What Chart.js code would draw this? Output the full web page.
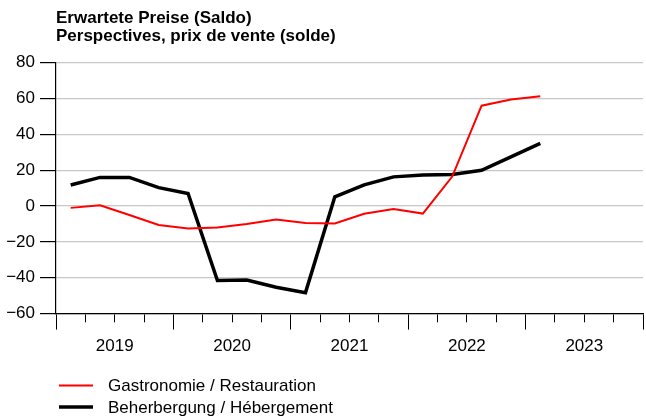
<!DOCTYPE html>
<html>
<head>
<meta charset="utf-8">
<script src="https://cdn.jsdelivr.net/npm/chart.js@4/dist/chart.umd.min.js"></script>
<style>
  html, body { margin: 0; padding: 0; background: #fff; }
  #wrap { width: 646px; height: 419px; position: relative; }
</style>
</head>
<body>
<div id="wrap"><canvas id="c" width="646" height="419"></canvas></div>
<script>
// ---- data ----
const titleLines = ['Erwartete Preise (Saldo)', 'Perspectives, prix de vente (solde)'];
const quarters = ['2019 Q1','2019 Q2','2019 Q3','2019 Q4','2020 Q1','2020 Q2','2020 Q3','2020 Q4',
                  '2021 Q1','2021 Q2','2021 Q3','2021 Q4','2022 Q1','2022 Q2','2022 Q3','2022 Q4','2023 Q1'];
const years = ['2019', '2020', '2021', '2022', '2023'];
const gastronomie = [-1, 0.5, -5, -10.5, -12.5, -12, -10, -7.5, -9.5, -9.7, -4.3, -1.7, -4.2, 16.5, 56, 59.5, 61.3];
const beherbergung = [11.8, 16, 16, 10.3, 7, -41.5, -41.3, -45.3, -48.3, 5.2, 11.8, 16.3, 17.4, 17.6, 20, 27.5, 35];
const seriesNames = ['Gastronomie / Restauration', 'Beherbergung / Hébergement'];
const yTicks = [-60, -40, -20, 0, 20, 40, 60, 80];

const FONT = "'Liberation Sans', Arial, Helvetica, sans-serif";
const quartersPerYear = 4;
const xMax = years.length * quartersPerYear;

function toPoints(arr) { return quarters.map((q, i) => ({ x: i + 0.5, y: arr[i] })); }

const bottomLegend = {
  id: 'bottomLegend',
  afterDraw(chart) {
    const { ctx, chartArea } = chart;
    ctx.save();
    ctx.font = '17px ' + FONT;
    ctx.textBaseline = 'middle';
    ctx.textAlign = 'left';
    chart.data.datasets.forEach((ds, i) => {
      const y = chartArea.bottom + 72 + i * 21.4;
      ctx.beginPath();
      ctx.strokeStyle = ds.borderColor;
      ctx.lineWidth = ds.borderWidth;
      ctx.moveTo(chartArea.left + 3, y);
      ctx.lineTo(chartArea.left + 37, y);
      ctx.stroke();
      ctx.fillStyle = '#000';
      ctx.fillText(ds.label, chartArea.left + 52, y + 1);
    });
    ctx.restore();
  }
};

new Chart(document.getElementById('c'), {
  type: 'line',
  data: {
    datasets: [
      { label: seriesNames[0], data: toPoints(gastronomie), borderColor: '#ff0000', backgroundColor: '#ff0000',
        borderWidth: 2, pointRadius: 0, tension: 0, fill: false },
      { label: seriesNames[1], data: toPoints(beherbergung), borderColor: '#000000', backgroundColor: '#000000',
        borderWidth: 3.5, pointRadius: 0, tension: 0, fill: false }
    ]
  },
  options: {
    responsive: false,
    animation: false,
    devicePixelRatio: 1,
    layout: { autoPadding: false, padding: { left: 0, right: 3, top: 0, bottom: 55 } },
    plugins: {
      legend: { display: false },
      tooltip: { enabled: false },
      title: {
        display: true,
        text: titleLines,
        align: 'start',
        fullSize: false,
        color: '#000',
        font: { family: FONT, size: 17, weight: 'bold', lineHeight: 1.08 },
        padding: { top: 9, bottom: 17 }
      }
    },
    scales: {
      x: {
        type: 'linear',
        min: 0,
        max: xMax,
        afterBuildTicks: (s) => { s.ticks = Array.from({ length: xMax + 1 }, (_, i) => ({ value: i })); },
        afterFit: (s) => { s.paddingLeft = 0; s.paddingRight = 0; },
        ticks: {
          autoSkip: false,
          maxRotation: 0,
          color: '#000',
          font: { family: FONT, size: 17 },
          padding: 7,
          callback: (v) => (v % quartersPerYear === 2 ? years[(v - 2) / quartersPerYear] : '')
        },
        grid: {
          drawOnChartArea: false,
          tickLength: 16,
          tickColor: '#000',
          tickWidth: 1,
          tickBorderDash: (ctx) => (ctx.tick && ctx.tick.value % quartersPerYear !== 0 ? [8, 100] : [])
        },
        border: { color: '#000', width: 1.3 }
      },
      y: {
        min: yTicks[0],
        max: yTicks[yTicks.length - 1],
        afterBuildTicks: (s) => { s.ticks = yTicks.map(v => ({ value: v })); },
        afterFit: (s) => { s.width = 56; },
        ticks: {
          color: '#000',
          font: { family: FONT, size: 17 },
          padding: 5,
          callback: (v) => (v < 0 ? '\u2212' + Math.abs(v) : String(v))
        },
        grid: {
          color: '#c8c8c8',
          lineWidth: 1.2,
          tickColor: '#000',
          tickLength: 16
        },
        border: { color: '#000', width: 1.2 }
      }
    }
  },
  plugins: [bottomLegend]
});
</script>
</body>
</html>
